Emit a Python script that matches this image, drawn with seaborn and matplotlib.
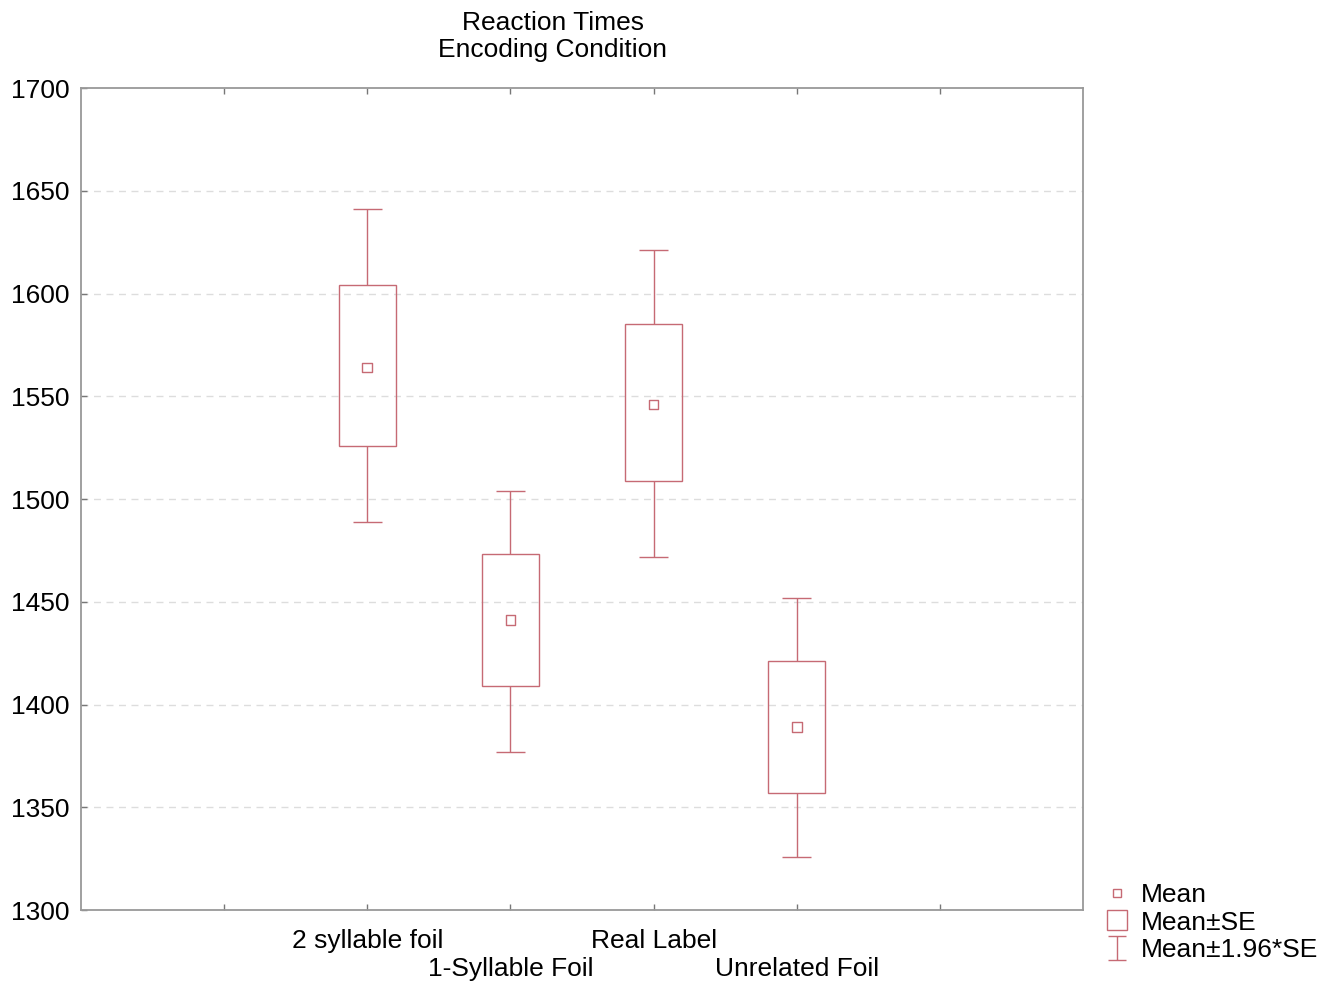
import matplotlib
matplotlib.use("Agg")
import matplotlib.pyplot as plt
import seaborn as sns
import numpy as np
import pandas as pd
from matplotlib.lines import Line2D
from matplotlib.path import Path

categories = ["2 syllable foil", "1-Syllable Foil", "Real Label", "Unrelated Foil"]
means = [1564, 1441, 1546, 1389]
se_lo = [1526, 1409, 1509, 1357]
se_hi = [1604, 1473, 1585, 1421]
ci_lo = [1489, 1377, 1472, 1326]
ci_hi = [1641, 1504, 1621, 1452]
yticks = [1300, 1350, 1400, 1450, 1500, 1550, 1600, 1650, 1700]

color = "#C66A74"
sns.set_theme(style="white")
plt.rcParams["font.family"] = ["Liberation Sans", "DejaVu Sans"]
plt.rcParams["text.color"] = "black"
plt.rcParams["xtick.color"] = "black"
plt.rcParams["ytick.color"] = "black"

FS = 19

fig = plt.figure(figsize=(13.37, 9.88), dpi=100)
ax = fig.add_axes([81/1337, 1-910/988, (1083-81)/1337, (910-88)/988])

pos = np.arange(2, 2 + len(categories))
df = pd.DataFrame({"pos": pos, "mean": means})

# grid
for v in yticks[1:-1]:
    ax.axhline(v, color="#DDDDDD", lw=1, ls=(0, (5, 4)), zorder=0)

bw = 0.4
cw = 0.2
for p, lo, hi, clo, chi in zip(pos, se_lo, se_hi, ci_lo, ci_hi):
    ax.bar(p, hi - lo, bottom=lo, width=bw, facecolor="none", edgecolor=color, lw=1.0, zorder=2)
    ax.vlines(p, hi, chi, color=color, lw=1.0)
    ax.vlines(p, clo, lo, color=color, lw=1.0)
    ax.hlines([clo, chi], p - cw/2, p + cw/2, color=color, lw=1.0)

sns.scatterplot(data=df, x="pos", y="mean", marker="s", s=50, facecolors="none",
                edgecolor=color, linewidth=1.0, ax=ax, zorder=3)

ax.set_xlim(0, 7)
ax.set_ylim(1300, 1700)
ax.set_yticks(yticks)
ax.set_yticklabels([str(v) for v in yticks], fontsize=FS)
ax.set_xticks(np.arange(1, 7))
ax.set_xticklabels([""] + categories + [""], fontsize=FS)
ax.set_xlabel("")
ax.set_ylabel("")
ax.tick_params(axis="x", direction="in", length=4, width=1, color="#777777", top=True, bottom=True)
ax.tick_params(axis="y", direction="in", length=4, width=1, color="#777777", left=True, pad=8)
for i, t in enumerate(ax.xaxis.get_major_ticks()):
    t.set_pad(14 if i % 2 == 1 else 34)
for s in ax.spines.values():
    s.set_color("#999999")
    s.set_linewidth(1.3)
    s.set_visible(True)

fig.text(553/1337, 1-11/988, "Reaction Times\nEncoding Condition", ha="center", va="top",
         fontsize=FS, linespacing=1.15)

ibeam = Path([(-0.8, 1), (0.8, 1), (0, 1), (0, -1), (-0.8, -1), (0.8, -1)],
             [Path.MOVETO, Path.LINETO, Path.MOVETO, Path.LINETO, Path.MOVETO, Path.LINETO])
handles = [
    Line2D([], [], ls="none", marker="s", ms=6, mfc="none", mec=color, mew=1),
    Line2D([], [], ls="none", marker="s", ms=14, mfc="none", mec=color, mew=1),
    Line2D([], [], ls="none", marker=ibeam, ms=17, mfc="none", mec=color, mew=1),
]
leg = fig.legend(handles, ["Mean", "Mean±SE", "Mean±1.96*SE"], loc="lower left",
                 bbox_to_anchor=(1104/1337, 1-962/988), frameon=False, fontsize=FS,
                 handlelength=1.0, handletextpad=0.4, labelspacing=0.13, borderpad=0,
                 borderaxespad=0)

fig.savefig("out.png", dpi=100)
